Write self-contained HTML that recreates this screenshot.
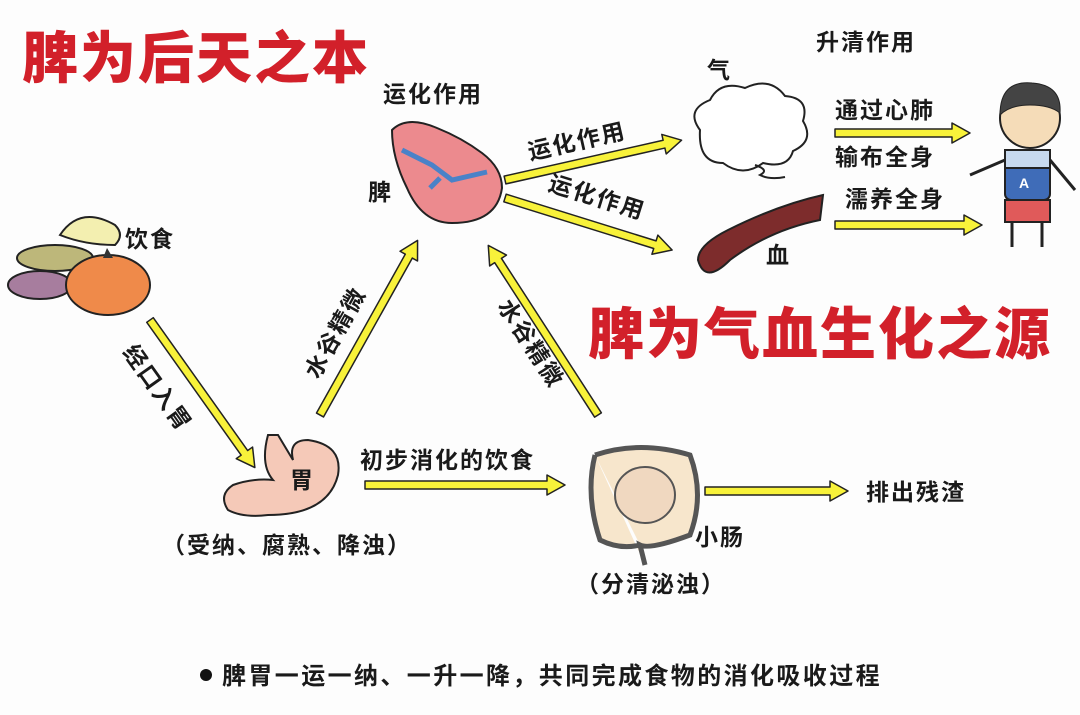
<!DOCTYPE html>
<html><head><meta charset="utf-8"><style>
body{margin:0;background:#fdfdfd;}
svg{display:block;font-family:"Liberation Sans","Noto Sans CJK SC",sans-serif;}
.l{font-size:23px;font-weight:bold;fill:#1a1a1a;letter-spacing:2px;}
.t{font-size:56px;font-weight:900;fill:#d2202a;letter-spacing:2px;}
</style></head><body>
<svg width="1080" height="715" viewBox="0 0 1080 715" xmlns="http://www.w3.org/2000/svg">
<rect width="1080" height="715" fill="#fdfdfd"/>
<text class="t" x="22" y="78">脾为后天之本</text>
<text class="t" x="588" y="354">脾为气血生化之源</text>

<g fill="#f8f23a" stroke="#222" stroke-width="1.5" stroke-linejoin="round">
<polygon transform="translate(150,320) rotate(54.6)" points="0,-4 163,-4 163,-10 181,0 163,10 163,4 0,4"/>
<polygon transform="translate(320,415) rotate(-60.8)" points="0,-4 182,-4 182,-10 200,0 182,10 182,4 0,4"/>
<polygon transform="translate(598,415) rotate(-122.9)" points="0,-4 184,-4 184,-10 202,0 184,10 184,4 0,4"/>
<polygon transform="translate(505,180) rotate(-12.7)" points="0,-4 163,-4 163,-10 181,0 163,10 163,4 0,4"/>
<polygon transform="translate(505,198) rotate(17.3)" points="0,-4 157,-4 157,-10 175,0 157,10 157,4 0,4"/>
<polygon transform="translate(835,133)" points="0,-4 117,-4 117,-10 135,0 117,10 117,4 0,4"/>
<polygon transform="translate(835,225)" points="0,-4 129,-4 129,-10 147,0 129,10 129,4 0,4"/>
<polygon transform="translate(365,485)" points="0,-4 182,-4 182,-10 200,0 182,10 182,4 0,4"/>
<polygon transform="translate(705,491)" points="0,-4 125,-4 125,-10 143,0 125,10 125,4 0,4"/>
</g>

<path d="M60,235 q20,-30 55,-10 q10,10 0,20 q-30,0 -55,-10z" fill="#f3efb0" stroke="#222" stroke-width="2"/>
<ellipse cx="55" cy="258" rx="38" ry="13" fill="#bdb77a" stroke="#222" stroke-width="2"/>
<ellipse cx="40" cy="285" rx="32" ry="14" fill="#a77d9e" stroke="#222" stroke-width="2"/>
<ellipse cx="108" cy="285" rx="42" ry="30" fill="#ef8a4a" stroke="#222" stroke-width="2"/>
<path d="M103,258 l4,-10 l6,10z" fill="#333"/>
<text class="l" x="125" y="247">饮食</text>

<path d="M392,130 q15,-15 45,-2 q25,10 45,25 q20,15 20,35 q-5,35 -50,35 q-30,0 -45,-35 q-15,-30 -15,-58z" fill="#ec8a8e" stroke="#222" stroke-width="2"/>
<path d="M402,150 l30,15 l20,15 l35,-8 M440,178 l-10,10" stroke="#4a82c8" stroke-width="5" fill="none"/>
<text class="l" x="368" y="200">脾</text>
<text class="l" x="383" y="102">运化作用</text>

<path d="M700,130 q-15,-20 10,-30 q10,-20 35,-12 q25,-12 40,8 q25,2 18,25 q12,20 -10,30 q-5,18 -30,12 q-20,15 -40,0 q-25,0 -23,-33z" fill="#fff" stroke="#222" stroke-width="2"/>
<path d="M755,165 q15,5 5,10 q10,5 25,2" stroke="#222" stroke-width="2" fill="none"/>
<text class="l" x="707" y="78">气</text>
<text class="l" x="816" y="50">升清作用</text>

<path d="M698,260 q0,-15 30,-30 q50,-25 95,-35 l-3,25 q-50,10 -90,40 q-25,25 -32,0z" fill="#7d2c2c" stroke="#222" stroke-width="2"/>
<text class="l" x="766" y="263">血</text>

<text class="l" x="835" y="118">通过心肺</text>
<text class="l" x="835" y="165">输布全身</text>
<text class="l" x="845" y="207">濡养全身</text>
<text class="l" transform="translate(530,160) rotate(-12.7)">运化作用</text>
<text class="l" transform="translate(547,190) rotate(17.3)">运化作用</text>

<circle cx="1030" cy="118" r="30" fill="#f5dcb8" stroke="#222" stroke-width="2"/>
<path d="M1000,115 q0,-35 32,-32 q30,2 28,30 q-10,-8 -30,-8 q-20,0 -30,10z" fill="#444" stroke="#222"/>
<rect x="1005" y="150" width="45" height="50" rx="6" fill="#3f6cb8" stroke="#222" stroke-width="2"/>
<rect x="1005" y="150" width="45" height="18" fill="#c7d9ee" stroke="#222" stroke-width="2"/>
<text x="1019" y="188" font-size="14" font-weight="bold" fill="#fff">A</text>
<rect x="1005" y="200" width="45" height="22" fill="#e05a5a" stroke="#222" stroke-width="2"/>
<path d="M1012,222 v25 M1042,222 v25 M1005,160 l-35,15 M1050,160 l25,30" stroke="#222" stroke-width="3"/>

<path d="M268,435 q-8,30 5,45 q-20,-2 -40,5 q-15,10 -5,25 q15,8 40,5 q60,0 70,-40 q5,-30 -30,-35 q-20,0 -15,20 l-15,-25z" fill="#f5c9b8" stroke="#222" stroke-width="2"/>
<text class="l" x="290" y="488">胃</text>
<text class="l" x="162" y="553">（受纳、腐熟、降浊）</text>
<text class="l" transform="translate(318,380) rotate(-60.8)">水谷精微</text>
<text class="l" transform="translate(122,352) rotate(54.6)">经口入胃</text>
<text class="l" transform="translate(497,306) rotate(57)">水谷精微</text>
<text class="l" x="360" y="468">初步消化的饮食</text>

<path d="M595,455 q45,-15 95,0 q15,40 0,80 q-40,15 -50,10 l5,20 M595,455 q-10,40 5,85 q20,10 40,5" fill="#f7e6cc" stroke="#555" stroke-width="5"/>
<ellipse cx="645" cy="495" rx="30" ry="28" fill="#f0d8c0" stroke="#555" stroke-width="2"/>
<text class="l" x="695" y="545">小肠</text>
<text class="l" x="576" y="592">（分清泌浊）</text>
<text class="l" x="866" y="500">排出残渣</text>

<circle cx="206" cy="675" r="6" fill="#111"/>
<text class="l" x="222" y="684" style="font-size:24px;letter-spacing:2.4px">脾胃一运一纳、一升一降，共同完成食物的消化吸收过程</text>
</svg>
</body></html>
